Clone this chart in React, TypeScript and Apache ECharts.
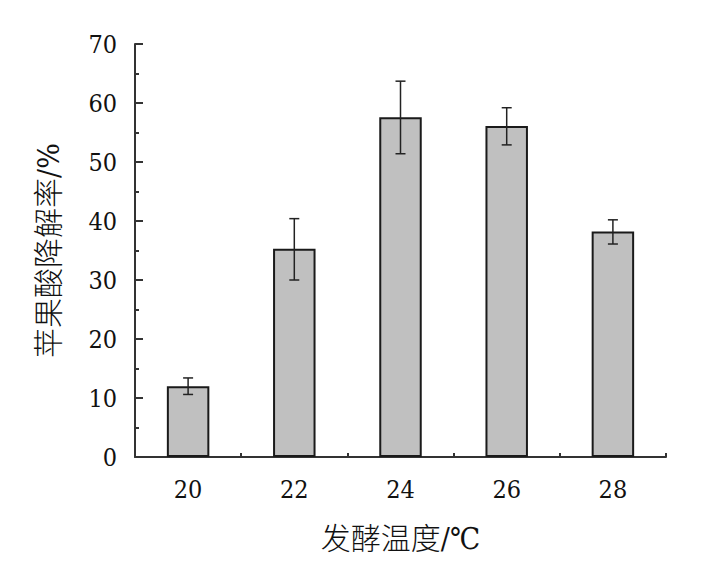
import React, { useEffect, useRef } from "react";
import * as echarts from "echarts";

const categories = ["20", "22", "24", "26", "28"];
const values = [12.0, 35.3, 57.6, 56.1, 38.2];
const errLow = [10.6, 30.0, 51.4, 52.9, 36.1];
const errHigh = [13.4, 40.4, 63.7, 59.2, 40.2];
const yTicks = { min: 0, max: 70, interval: 10 };

const serif = "DejaVu Serif Condensed, DejaVu Serif";
const cjk = "DejaVu Serif Condensed, DejaVu Serif, Noto Sans CJK SC";

export default function App() {
  const ref = useRef<HTMLDivElement>(null);
  useEffect(() => {
    if (!ref.current) return;
    const chart = echarts.init(ref.current, null, { renderer: "svg" });
    const errData = categories.map((c, i) => [i, errLow[i], errHigh[i]]);
    chart.setOption({
      animation: false,
      backgroundColor: "#ffffff",
      grid: { left: 135, right: 38, top: 44, bottom: 119, containLabel: false },
      xAxis: [
        {
          type: "category",
          data: categories,
          name: "发酵温度/℃",
          nameLocation: "middle",
          nameGap: 66,
          nameTextStyle: { fontFamily: cjk, fontSize: 30, fontWeight: 300, color: "#111" },
          axisLine: { show: true, lineStyle: { color: "#333", width: 2 } },
          axisTick: { show: true, inside: true, length: 9, alignWithLabel: true, lineStyle: { color: "#333", width: 2 } },
          axisLabel: { fontFamily: serif, fontSize: 25, color: "#111", margin: 20 },
          splitLine: { show: false },
        },
        {
          type: "category",
          data: categories,
          position: "bottom",
          axisLine: { show: false },
          axisTick: { show: true, inside: true, length: 4, alignWithLabel: false, lineStyle: { color: "#333", width: 2 } },
          axisLabel: { show: false },
          splitLine: { show: false },
        },
      ],
      yAxis: {
        type: "value",
        min: yTicks.min,
        max: yTicks.max,
        interval: yTicks.interval,
        name: "苹果酸降解率/%",
        nameLocation: "middle",
        nameGap: 72,
        nameTextStyle: { fontFamily: cjk, fontSize: 30, fontWeight: 300, color: "#111" },
        axisLine: { show: true, lineStyle: { color: "#333", width: 2 } },
        axisTick: { show: true, inside: true, length: 8, lineStyle: { color: "#333", width: 2 } },
        minorTick: { show: true, splitNumber: 2, length: 4, lineStyle: { color: "#333", width: 2 } },
        axisLabel: { fontFamily: serif, fontSize: 25, color: "#111", margin: 18 },
        splitLine: { show: false },
      },
      series: [
        {
          type: "bar",
          data: values,
          barWidth: "40%",
          itemStyle: { color: "#c0c0c0", borderColor: "#1a1a1a", borderWidth: 2 },
        },
        {
          type: "custom",
          data: errData,
          z: 10,
          renderItem: (params: any, api: any) => {
            const x = api.value(0);
            const lo = api.coord([x, api.value(1)]);
            const hi = api.coord([x, api.value(2)]);
            const hw = 5;
            const st = { stroke: "#222", lineWidth: 1.5 };
            return {
              type: "group",
              children: [
                { type: "line", shape: { x1: hi[0], y1: hi[1], x2: lo[0], y2: lo[1] }, style: st },
                { type: "line", shape: { x1: hi[0] - hw, y1: hi[1], x2: hi[0] + hw, y2: hi[1] }, style: st },
                { type: "line", shape: { x1: lo[0] - hw, y1: lo[1], x2: lo[0] + hw, y2: lo[1] }, style: st },
              ],
            };
          },
        },
      ],
    });
    return () => chart.dispose();
  }, []);
  return <div ref={ref} style={{ width: 704, height: 576, position: "absolute", left: 0, top: 0 }} />;
}
